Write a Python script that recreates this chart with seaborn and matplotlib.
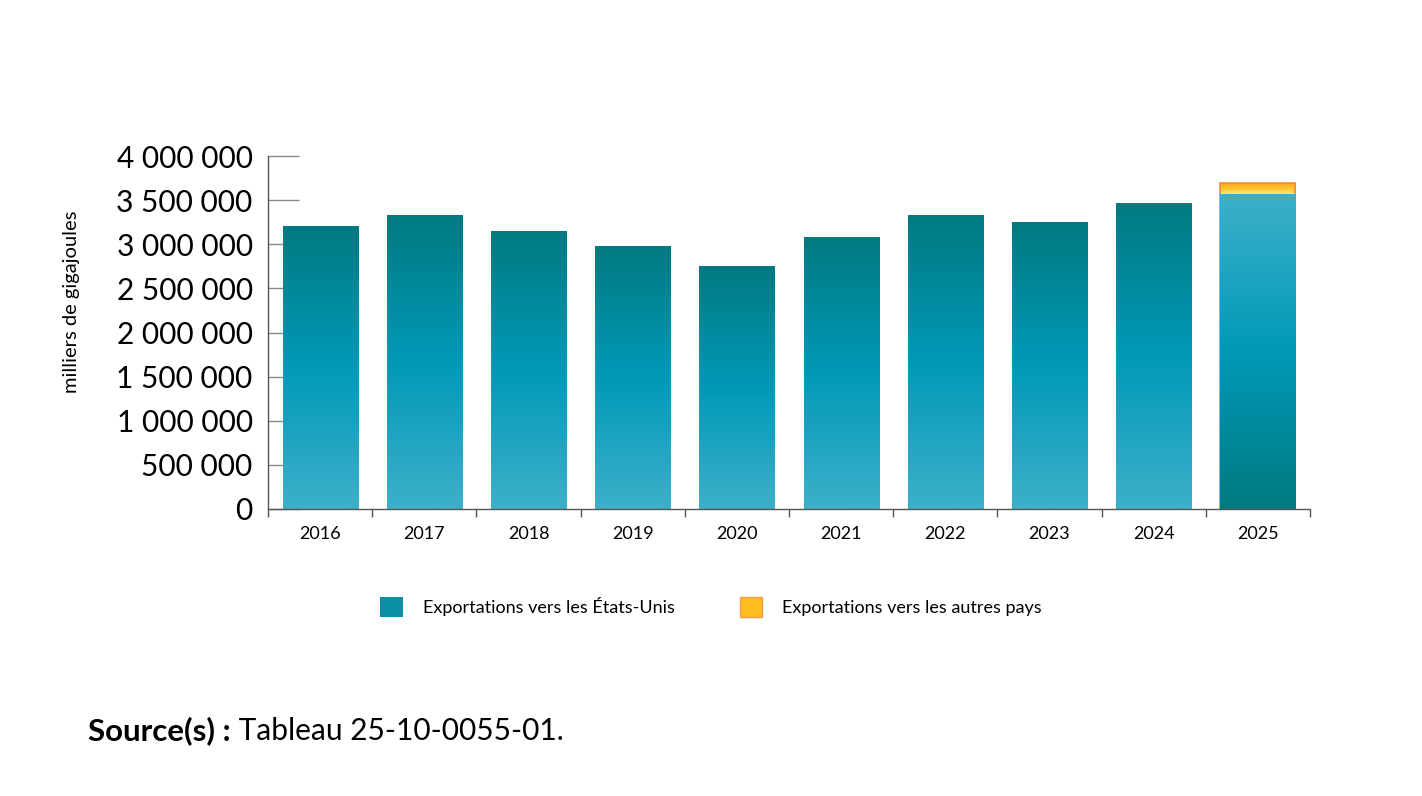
# Imports
import matplotlib.pyplot as plt
import matplotlib.patches as mpatches
from matplotlib.colors import LinearSegmentedColormap
from matplotlib.ticker import FuncFormatter, FixedLocator
import pandas as pd
import numpy as np
import seaborn as sns

# Data
YEARS = ['2016', '2017', '2018', '2019', '2020', '2021', '2022', '2023', '2024', '2025']
US_EXPORTS = [3207000, 3331000, 3150000, 2980000, 2753000, 3082000, 3331000, 3252000, 3467000, 3569000]
OTHER_EXPORTS = [0, 0, 0, 0, 0, 0, 0, 0, 0, 125000]
Y_TICKS = [0, 500000, 1000000, 1500000, 2000000, 2500000, 3000000, 3500000, 4000000]

# Globals
US_LABEL = 'Exportations vers les États-Unis'
OTHER_LABEL = 'Exportations vers les autres pays'
FONT = ['Lato', 'DejaVu Sans']
# gradients go bottom -> top
US_CMAP = LinearSegmentedColormap.from_list('us', ['#3db0ca', '#0099b8', '#007a80'])
US_CMAP_REV = LinearSegmentedColormap.from_list('us_rev', ['#007a80', '#0099b8', '#3db0ca'])
OTHER_CMAP = LinearSegmentedColormap.from_list('oth', ['#ffe680', '#fdc22a', '#fba614'])


def fill_gradient(ax, patch, cmap, zorder, y_start=None):
    '''paint a vertical gradient inside a bar patch'''
    x0, y0 = patch.get_x(), patch.get_y()
    w, h = patch.get_width(), patch.get_height()
    if h <= 0:
        return
    y_lo = y0 if y_start is None else y_start
    grad = np.linspace(0, 1, 256).reshape(-1, 1)
    im = ax.imshow(grad, cmap=cmap, origin='lower', aspect='auto',
                   extent=(x0, x0 + w, y_lo, y0 + h), zorder=zorder, interpolation='bilinear')
    im.set_clip_path(patch)


def make_chart():
    df = pd.DataFrame({'year': YEARS, 'us': US_EXPORTS, 'other': OTHER_EXPORTS})
    df['total'] = df['us'] + df['other']

    plt.rcParams['font.family'] = FONT
    fig = plt.figure(figsize=(14.22, 7.96), dpi=100)
    ax = fig.add_axes([268 / 1422, 1 - 509 / 796, 1042 / 1422, 353 / 796])

    # totals first (orange shows on top), then US bars over them
    sns.barplot(data=df, x='year', y='total', color='#fdb913', width=0.72, ax=ax, zorder=2)
    n = len(ax.patches)
    sns.barplot(data=df, x='year', y='us', color='#0099b8', width=0.72, ax=ax, zorder=4)
    total_patches = ax.patches[:n]
    us_patches = ax.patches[n:]

    for p, us, oth in zip(total_patches, df['us'], df['other']):
        p.set_facecolor('none')
        if oth > 0:
            p.set_edgecolor('#f08a3c')
            p.set_linewidth(1.2)
            fill_gradient(ax, p, OTHER_CMAP, 1.5, y_start=us)
        else:
            p.set_edgecolor('none')
    for i, p in enumerate(us_patches):
        p.set_facecolor('none')
        p.set_edgecolor('none')
        cmap = US_CMAP_REV if df['other'].iloc[i] > 0 else US_CMAP
        fill_gradient(ax, p, cmap, 3.5)

    ax.set_xlim(-0.5, len(YEARS) - 0.5)
    ax.set_ylim(0, 4000000)

    # y axis
    ax.yaxis.set_major_locator(FixedLocator(Y_TICKS))
    ax.yaxis.set_major_formatter(FuncFormatter(lambda v, p: f'{int(v):,}'.replace(',', ' ')))
    ax.tick_params(axis='y', direction='in', length=22, width=1, color='#8a8a8a',
                   labelsize=21.5, pad=11, labelcolor='black')
    ax.set_ylabel('milliers de gigajoules', fontsize=14.5)
    ax.yaxis.set_label_coords(-0.18, 0.586)

    # x axis: boundary ticks only
    ax.set_xlabel('')
    ax.xaxis.set_minor_locator(FixedLocator(np.arange(-0.5, len(YEARS), 1.0)))
    ax.tick_params(axis='x', which='major', length=0, labelsize=13, pad=12)
    ax.tick_params(axis='x', which='minor', direction='out', length=6, width=1, color='#555555')

    sns.despine(ax=ax, top=True, right=True)
    for s in ['left', 'bottom']:
        ax.spines[s].set_color('#555555')
        ax.spines[s].set_linewidth(1)
        ax.spines[s].set_zorder(6)

    # legend
    handles = [mpatches.Patch(facecolor='#0a8fa3', edgecolor='none', label=US_LABEL),
               mpatches.Patch(facecolor='#fdbd1f', edgecolor='#f59a4a', linewidth=1, label=OTHER_LABEL)]
    fig.legend(handles=handles, loc='center', bbox_to_anchor=(0.5, 1 - 607 / 796), ncol=2,
               frameon=False, fontsize=13, handlelength=1.25, handleheight=1.3,
               handletextpad=1.1, columnspacing=3.6)

    # source note
    t = fig.text(88 / 1422, 1 - 740 / 796, 'Source(s) :', fontsize=22.5, fontweight='bold',
                 va='baseline', ha='left')
    fig.canvas.draw()
    ax.annotate(' Tableau 25-10-0055-01.', xy=(1, 0), xycoords=t, fontsize=21.5,
                va='bottom', ha='left', annotation_clip=False)

    fig.savefig('out.png', dpi=100)
    plt.close(fig)


def main():
    make_chart()


if __name__ == '__main__':
    main()
